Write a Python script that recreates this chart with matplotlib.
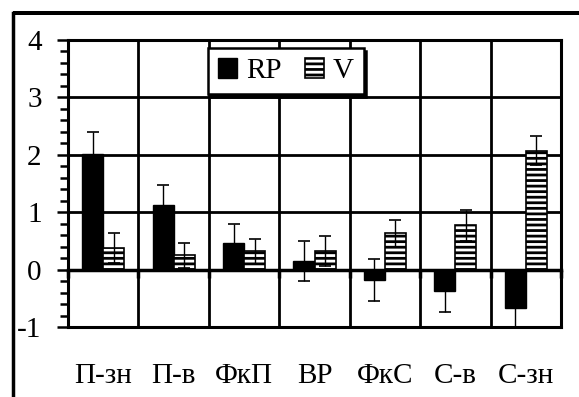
import numpy as np
import matplotlib.pyplot as plt
import matplotlib.ticker as tck
from matplotlib.lines import Line2D
from matplotlib.patches import Rectangle

plt.rcParams.update({
    "font.family": ["Liberation Serif", "DejaVu Serif"],
    "font.size": 21,
    "axes.unicode_minus": False,
    "hatch.linewidth": 2.0,
    "hatch.color": "black",
})

categories = ['П-зн', 'П-в', 'ФкП', 'ВР', 'ФкС', 'С-в', 'С-зн']
rp_values = [2.02, 1.13, 0.47, 0.15, -0.18, -0.38, -0.67]
rp_errors = [0.38, 0.35, 0.32, 0.35, 0.36, 0.36, 0.35]
v_values = [0.38, 0.25, 0.32, 0.32, 0.63, 0.77, 2.07]
v_errors = [0.26, 0.22, 0.22, 0.26, 0.24, 0.27, 0.25]

x = np.arange(len(categories))
w = 0.3

fig = plt.figure(figsize=(5.79, 3.97), dpi=100)
ax = fig.add_axes([68 / 579, 70 / 397, 493 / 579, 287 / 397])

# outer frame (cut off at right/bottom like the original)
fx, fy = 13 / 579, 1 - 13 / 397
fig.add_artist(Line2D([fx, fx], [0.002, fy], transform=fig.transFigure,
                      color='black', linewidth=2.5, solid_capstyle='projecting'))
fig.add_artist(Rectangle((fx, fy - 1.5 / 397), 1.0 - fx, 3 / 397,
                         transform=fig.transFigure, facecolor='black',
                         edgecolor='none', zorder=10))

err_kw = dict(ecolor='black', elinewidth=1.0, capsize=4.5, capthick=1.2)

ax.bar(x - w / 2, rp_values, w, color='black', edgecolor='black',
       linewidth=1.0, label='RP', yerr=rp_errors, error_kw=err_kw, zorder=3)
ax.bar(x + w / 2, v_values, w, color='white', edgecolor='black',
       linewidth=1.2, hatch='---', label='V', yerr=v_errors,
       error_kw=err_kw, zorder=3)

ax.set_xlim(-0.5, len(categories) - 0.5)
ax.set_ylim(-1, 4)

# grid
ax.set_axisbelow(True)
ax.set_xticks(np.arange(-0.5, len(categories), 1.0))
ax.set_yticks(np.arange(-1, 5, 1))
ax.yaxis.set_minor_locator(tck.MultipleLocator(0.2))
ax.grid(True, which='major', color='black', linewidth=2.0)

for s in ['top', 'right', 'left']:
    ax.spines[s].set_linewidth(2.2)
ax.spines['bottom'].set_position(('data', 0))
ax.spines['bottom'].set_linewidth(2.5)

ax.tick_params(axis='x', which='both', direction='out', length=6,
               width=2.5, labelbottom=False)
ax.tick_params(axis='y', which='major', direction='out', length=8,
               width=1.8, pad=11)
ax.tick_params(axis='y', which='minor', direction='out', length=6,
               width=1.8)

# category labels below the plot
sec = ax.secondary_xaxis(0)
sec.set_xticks(x)
sec.set_xticklabels(categories)
sec.tick_params(length=0, pad=26)
sec.spines['bottom'].set_linewidth(2.2)

leg = ax.legend(ncol=2, loc='upper left', bbox_to_anchor=(0.284, 0.972),
                frameon=True, fancybox=False, shadow={'color': 'black', 'alpha': 1},
                handlelength=0.65, handleheight=0.65, handletextpad=0.3,
                columnspacing=0.8, borderpad=0.35, borderaxespad=0.0,
                fontsize=21)
leg.get_frame().set_edgecolor('black')
leg.get_frame().set_linewidth(1.8)
leg.get_frame().set_alpha(1)
leg.set_zorder(5)

plt.savefig('out.png', dpi=100)
